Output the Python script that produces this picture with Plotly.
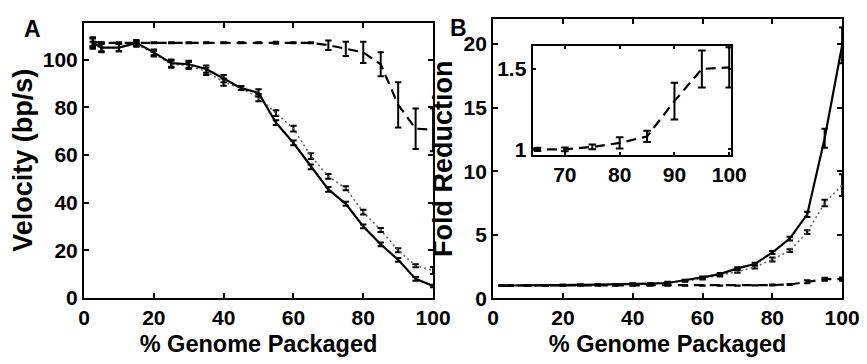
import plotly.graph_objects as go

# ---------------- data ----------------
x_pct = [2.5, 5, 10, 15, 20, 25, 30, 35, 40, 45, 50, 55, 60, 65, 70, 75, 80, 85, 90, 95, 100]

# Panel A: velocity (bp/s)
vel_solid = [107.0, 105.0, 105.0, 107.0, 103.0, 98.5, 98.0, 96.0, 92.0, 88.0, 86.0,
             73.5, 65.0, 55.0, 45.5, 39.5, 30.0, 22.5, 16.0, 8.0, 5.0]
vel_solid_err = [1.8, 2.0, 1.5, 1.2, 1.2, 1.5, 1.5, 1.5, 1.5, 0.8, 1.5,
                 1.0, 1.0, 1.0, 1.0, 0.8, 0.8, 0.8, 0.8, 0.8, 0.5]
vel_dotted = [106.0, 105.0, 105.0, 106.5, 102.5, 98.0, 97.5, 95.0, 90.5, 88.0, 84.0,
              77.5, 71.0, 59.5, 51.0, 46.0, 36.0, 28.5, 20.0, 13.5, 11.5]
vel_dotted_err = [1.5, 1.5, 1.5, 1.2, 1.2, 1.5, 1.5, 1.5, 1.5, 0.8, 1.5,
                  1.2, 1.2, 1.2, 1.0, 0.8, 1.0, 0.8, 0.8, 0.6, 1.5]
vel_dashed = [107.5, 107.0, 107.0, 107.0, 107.0, 107.0, 107.0, 107.0, 107.0, 107.0, 107.0,
              107.0, 107.0, 107.0, 106.0, 104.5, 103.0, 98.0, 81.0, 71.0, 70.5]
vel_dashed_err = [1.8, 0.2, 0.2, 0.2, 0.2, 0.2, 0.2, 0.2, 0.2, 0.2, 0.2,
                  0.4, 0.2, 0.2, 2.0, 3.0, 4.5, 5.0, 9.5, 8.5, 9.0]

# Panel B: fold reduction
fold_solid = [1.0, 1.0, 1.02, 1.0, 1.03, 1.05, 1.07, 1.08, 1.1, 1.15, 1.2,
              1.4, 1.65, 1.9, 2.35, 2.7, 3.6, 4.7, 6.6, 12.6, 19.9]
fold_solid_err = [0.03, 0.03, 0.03, 0.03, 0.03, 0.03, 0.03, 0.03, 0.04, 0.04, 0.05,
                  0.06, 0.07, 0.08, 0.1, 0.1, 0.12, 0.15, 0.2, 0.75, 1.4]
fold_dotted = [1.0, 1.0, 1.0, 1.0, 1.03, 1.05, 1.07, 1.1, 1.15, 1.17, 1.25,
               1.35, 1.55, 1.8, 2.1, 2.45, 3.05, 3.75, 5.2, 7.5, 8.9]
fold_dotted_err = [0.03, 0.03, 0.03, 0.03, 0.03, 0.03, 0.03, 0.03, 0.04, 0.04, 0.05,
                   0.06, 0.07, 0.08, 0.1, 0.1, 0.15, 0.1, 0.15, 0.25, 0.85]
fold_dashed = [1.0, 1.0, 1.0, 1.0, 1.0, 1.0, 1.0, 1.0, 1.0, 1.0, 1.0,
               1.0, 1.0, 1.0, 1.0, 1.015, 1.04, 1.08, 1.3, 1.5, 1.51]
fold_dashed_err = [0.01, 0.01, 0.01, 0.01, 0.01, 0.01, 0.01, 0.01, 0.01, 0.01, 0.01,
                   0.01, 0.01, 0.01, 0.012, 0.015, 0.035, 0.035, 0.115, 0.115, 0.125]

xticks_main = [0, 20, 40, 60, 80, 100]
yticks_A = [0, 20, 40, 60, 80, 100]
yticks_B = [0, 5, 10, 15, 20]
xticks_inset = [70, 80, 90, 100]
yticks_inset = [1, 1.5]

# ---------------- style ----------------
FONT = "Liberation Sans, Arial"
BLACK = "#000000"
DOT_COLOR = "#666666"


def err(vals, w=3.2):
    return dict(type="data", array=vals, visible=True, color=BLACK, thickness=2, width=w)


fig = go.Figure()


def add_series(xa, ya, yv, ev, kind):
    if kind == "solid":
        line = dict(color=BLACK, width=2.2)
    elif kind == "dotted":
        line = dict(color=DOT_COLOR, width=1.6, dash="2px,3px")
    else:
        line = dict(color=BLACK, width=2.2, dash="10px,6px")
    fig.add_trace(go.Scatter(x=x_pct, y=yv, mode="lines", line=line,
                             error_y=err(ev), xaxis=xa, yaxis=ya,
                             showlegend=False, hoverinfo="skip"))


# Panel A
add_series("x", "y", vel_dotted, vel_dotted_err, "dotted")
add_series("x", "y", vel_dashed, vel_dashed_err, "dashed")
add_series("x", "y", vel_solid, vel_solid_err, "solid")
# Panel B
add_series("x2", "y2", fold_dotted, fold_dotted_err, "dotted")
add_series("x2", "y2", fold_dashed, fold_dashed_err, "dashed")
add_series("x2", "y2", fold_solid, fold_solid_err, "solid")
# Inset (dashed series only)
fig.add_trace(go.Scatter(x=x_pct, y=fold_dashed, mode="lines",
                         line=dict(color=BLACK, width=2.2, dash="10px,6px"),
                         error_y=err(fold_dashed_err, 3.8), xaxis="x3", yaxis="y3",
                         showlegend=False, hoverinfo="skip"))

tickfont = dict(family=FONT, size=21, color=BLACK, weight="bold")
xtitlefont = dict(family=FONT, size=23.5, color=BLACK, weight="bold")
ytitlefont = dict(family=FONT, size=27, color=BLACK, weight="bold")

axis_common = dict(showline=True, linecolor=BLACK, linewidth=2, mirror="ticks",
                   ticks="inside", ticklen=5, tickwidth=1.5, tickcolor=BLACK,
                   showgrid=False, zeroline=False, tickfont=tickfont)

W, H = 867, 364


def dom(a, b, total):
    return [a / total, b / total]


fig.update_layout(
    width=W, height=H,
    margin=dict(l=0, r=0, t=0, b=0),
    paper_bgcolor="white", plot_bgcolor="white",
    xaxis=dict(axis_common, domain=dom(72, 431, W), range=[0, 100], tickvals=xticks_main,
               anchor="y", title=dict(text="% Genome Packaged", font=xtitlefont, standoff=7)),
    yaxis=dict(axis_common, domain=[1 - 299 / H, 1 - 15 / H], range=[0, 115.5], tickvals=yticks_A,
               anchor="x", title=dict(text="Velocity (bp/s)", font=ytitlefont, standoff=3)),
    xaxis2=dict(axis_common, domain=dom(492.7, 851.7, W), range=[0, 100], tickvals=xticks_main,
                anchor="y2", title=dict(text="% Genome Packaged", font=xtitlefont, standoff=7)),
    yaxis2=dict(axis_common, domain=[1 - 299.3 / H, 1 - 11.7 / H], range=[0, 21.95], tickvals=yticks_B,
                anchor="x2", title=dict(text="Fold Reduction", font=ytitlefont, standoff=3)),
    xaxis3=dict(axis_common, domain=dom(533.3, 737.3, W), range=[64.1, 100.3], tickvals=xticks_inset,
                anchor="y3", ticklen=3),
    yaxis3=dict(axis_common, domain=[1 - 151.7 / H, 1 - 39 / H], range=[0.964, 1.644], tickvals=yticks_inset,
                anchor="x3", ticklen=3),
    annotations=[
        dict(text="A", x=8 / W, y=1 - 6 / H, xref="paper", yref="paper", xanchor="left", yanchor="top",
             showarrow=False, font=dict(family=FONT, size=23, color=BLACK, weight="bold")),
        dict(text="B", x=446 / W, y=1 - 5 / H, xref="paper", yref="paper", xanchor="left", yanchor="top",
             showarrow=False, font=dict(family=FONT, size=23, color=BLACK, weight="bold")),
    ],
)

# inset white background
fig.add_shape(type="rect", xref="x3 domain", yref="y3 domain", x0=0, x1=1, y0=0, y1=1,
              fillcolor="white", line=dict(width=0), layer="below")

fig.write_html("out.html")
